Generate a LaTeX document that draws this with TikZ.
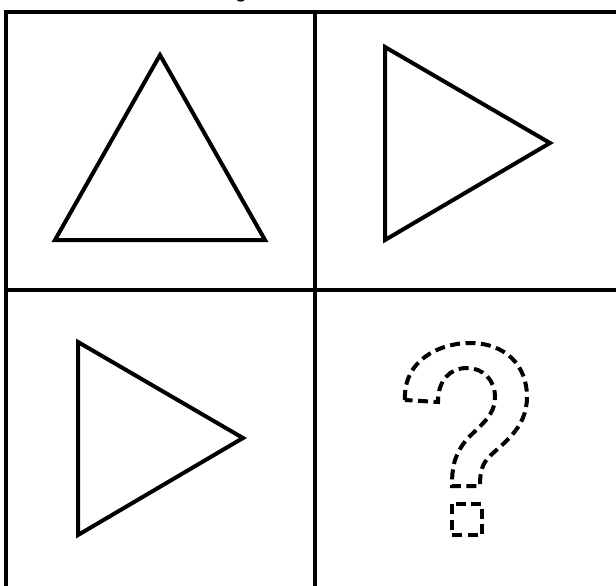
\documentclass[tikz,border=0pt]{standalone}
\usepackage{fontspec}
\setmainfont{Liberation Sans}
\begin{document}
\begin{tikzpicture}[x=1pt,y=-1pt,
  gridline/.style={line width=4.4pt, black},
  shapeline/.style={line width=4pt, black, line join=miter},
  qline/.style={line width=4pt, black, dash pattern=on 10pt off 5.5pt}]
\useasboundingbox (0,0) rectangle (616,586);
\begin{scope}
\clip (0,0) rectangle (616,586);
\fill[white] (0,0) rectangle (616,586);
\node[anchor=base, inner sep=0pt, font=\fontsize{22}{24}\selectfont] (title) at (241,-2) {g};
\draw[gridline] (6,12) rectangle (626,600);
\draw[gridline] (315,12) -- (315,600);
\draw[gridline] (6,290) -- (626,290);
\coordinate (a1) at (160,55);
\coordinate (a2) at (55,240);
\coordinate (a3) at (265,240);
\draw[shapeline] (a1) -- (a2) -- (a3) -- cycle;
\coordinate (b1) at (385,47);
\coordinate (b2) at (385,240);
\coordinate (b3) at (550,143);
\draw[shapeline] (b1) -- (b2) -- (b3) -- cycle;
\coordinate (c1) at (78,342);
\coordinate (c2) at (78,535);
\coordinate (c3) at (243,438);
\draw[shapeline] (c1) -- (c2) -- (c3) -- cycle;
\draw[qline] (405,400) .. controls (403,360) and (440,343) .. (470,343)
  .. controls (505,343) and (527,365) .. (527,397)
  .. controls (527,430) and (500,445) .. (488,458)
  .. controls (481,466) and (480,475) .. (480,486) -- (452,486)
  .. controls (452,470) and (453,455) .. (468,438)
  .. controls (482,424) and (495,415) .. (495,397)
  .. controls (495,380) and (483,368) .. (467,368)
  .. controls (450,368) and (438,380) .. (438,402) -- cycle;
\draw[qline] (452,504) rectangle (482,535);
\end{scope}
\end{tikzpicture}
\end{document}
